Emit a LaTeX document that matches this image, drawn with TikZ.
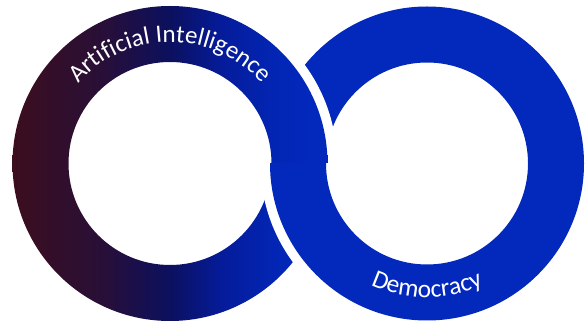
\documentclass[tikz,border=0pt]{standalone}
\usepackage{fontspec}
\setmainfont{Carlito}
\usetikzlibrary{decorations.text}
\definecolor{ringblue}{RGB}{2,40,188}
\pgfdeclarehorizontalshading{aigrad}{100bp}{%
  rgb(0bp)=(0.235,0.055,0.118);
  rgb(25bp)=(0.235,0.055,0.118);
  rgb(39bp)=(0.160,0.058,0.215);
  rgb(50bp)=(0.045,0.062,0.370);
  rgb(58bp)=(0.020,0.105,0.600);
  rgb(66bp)=(0.010,0.145,0.700);
  rgb(72bp)=(0.008,0.157,0.737);
  rgb(100bp)=(0.008,0.157,0.737)}
\begin{document}
\begin{tikzpicture}[x=1pt,y=1pt,
  arctext/.style={decorate, decoration={text along path, text align=center, text color=white}}]
\useasboundingbox (0,0) rectangle (586,326);
\coordinate (cl) at (170,162.5);
\coordinate (cr) at (427,162.5);
% right ring, upper half (under the left ring)
\begin{scope}
  \clip (0,162.5) rectangle (586,326);
  \fill[ringblue, even odd rule] (cr) circle[radius=157] (cr) circle[radius=101];
\end{scope}
% gap around left ring
\fill[white] (cl) circle[radius=167];
% left ring with gradient
\shade[shading=aigrad, even odd rule]
  (cl) circle[radius=157.5] (cl) circle[radius=101.5];
% right ring, lower half (over the left ring)
\begin{scope}
  \clip (0,0) rectangle (586,162.5);
  \fill[white] (cr) circle[radius=166.5];
  \fill[ringblue, even odd rule] (cr) circle[radius=157] (cr) circle[radius=101];
\end{scope}
% labels
\path[arctext, decoration={text={|\fontsize{25}{30}\selectfont|Artificial Intelligence}}]
  (cl) ++(175:121.5) arc[start angle=175, end angle=5, radius=121.5];
\path[arctext, decoration={text={|\fontsize{25.5}{30}\selectfont|Democracy}}]
  (cr) ++(200:134) arc[start angle=200, end angle=340, radius=134];
\end{tikzpicture}
\end{document}
